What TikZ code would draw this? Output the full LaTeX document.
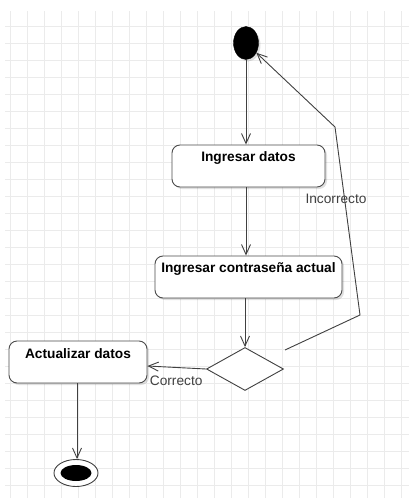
\documentclass[tikz,border=0pt]{standalone}
\usepackage{fontspec}
\setmainfont{Liberation Sans}
\usetikzlibrary{arrows.meta,shapes.geometric,shadows}
\begin{document}
\begin{tikzpicture}[x=1pt,y=-1pt,
  gridline/.style={draw=black!8,line width=0.8pt},
  shad/.style={drop shadow={shadow xshift=2pt,shadow yshift=-2pt,opacity=0.12,fill=black}},
  actbox/.style={draw=black!70,line width=0.9pt,rounded corners=8pt,fill=white,shad,inner sep=0pt},
  acttxt/.style={font=\fontsize{13.7}{16}\selectfont\bfseries,inner sep=0pt,anchor=center},
  lbl/.style={font=\fontsize{13.7}{16}\selectfont,text=black!75,inner sep=0pt},
  flow/.style={draw=black!75,line width=0.9pt,-{Straight Barb[length=10pt,width=9pt]}},
  ]
\useasboundingbox (0,0) rectangle (409,498);
\fill[white] (0,0) rectangle (409,498);
% grid
\foreach \k in {0,...,23} \draw[gridline] ({10+17*\k},11) -- ({10+17*\k},498);
\foreach \k in {0,...,27} \draw[gridline] (5,{26+17*\k}) -- (409,{26+17*\k});
% nodes
\node[ellipse,fill=black,draw=black,minimum width=25pt,minimum height=33pt,inner sep=0pt,shad] (init) at (246,43) {};
\node[actbox,minimum width=153pt,minimum height=42pt] (d1) at (248.5,166) {};
\node[acttxt] (t1) at (248.5,158) {Ingresar datos};
\node[actbox,minimum width=187pt,minimum height=42pt] (d2) at (248.5,277) {};
\node[acttxt] (t2) at (248.5,269) {Ingresar contraseña actual};
\node[diamond,draw=black!75,line width=0.9pt,fill=white,minimum width=77pt,minimum height=43pt,inner sep=0pt] (dia) at (245,369) {};
\node[actbox,minimum width=138pt,minimum height=42pt] (act) at (78,362) {};
\node[acttxt] (t3) at (78,354) {Actualizar datos};
\node[ellipse,draw=black!75,line width=0.9pt,fill=white,minimum width=44pt,minimum height=27pt,inner sep=0pt] (fin) at (76,473) {};
\node[ellipse,fill=black,minimum width=31pt,minimum height=16pt,inner sep=0pt] (finin) at (fin.center) {};
% connectors
\draw[flow] (init.south) -- (init.south |- d1.north);
\draw[flow] (d1.south -| init) -- (init |- d2.north);
\draw[flow] (d2.south -| dia) -- (dia.north);
\draw[flow] (dia.west) -- ([yshift=-4pt]act.east) node[lbl,anchor=west,pos=1,xshift=2pt,yshift=-15pt] (lc) {Correcto};
\coordinate (incs) at (285,350);
\coordinate (inc1) at (360,315);
\coordinate (inc2) at (335,127);
\draw[flow] (incs) -- (inc1) -- (inc2) -- (init);
\node[lbl] (li) at (336,199) {Incorrecto};
\draw[flow] (act.south -| 77,0) -- (77,0 |- fin.north);
\end{tikzpicture}
\end{document}
